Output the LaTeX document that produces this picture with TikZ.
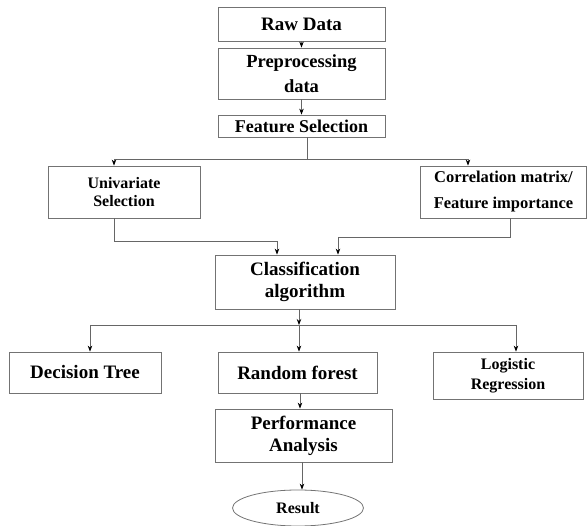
\documentclass[tikz,border=0pt]{standalone}
\usepackage{fontspec}
\setmainfont{Liberation Serif}
\usetikzlibrary{arrows.meta,shapes.geometric}
\tikzset{
  block/.style={draw=black!55, line width=0.8pt, align=center, inner sep=1pt},
  big/.style={font=\bfseries\fontsize{19}{22}\selectfont},
  small/.style={font=\bfseries\fontsize{16}{18}\selectfont},
  link/.style={draw=black!60, line width=0.8pt},
  arrow/.style={link, -{Stealth[length=6pt,width=4.5pt,black]}}
}

\begin{document}
\begin{tikzpicture}[x=1pt,y=-1pt]
  \useasboundingbox (0,0) rectangle (587,526);
  % boxes
  \node[block,big,minimum width=167pt,minimum height=34pt] (raw) at (301.5,24) {Raw Data};
  \node[block,big,minimum width=167pt,minimum height=51pt,font=\bfseries\fontsize{18.5}{25}\selectfont] (prep) at (301.5,73.5) {Preprocessing\\data};
  \node[block,minimum width=167pt,minimum height=22pt,font=\bfseries\fontsize{18}{20}\selectfont] (feat) at (301.5,126) {Feature Selection};
  \node[block,small,minimum width=152pt,minimum height=52pt] (uni) at (124,192) {Univariate\\Selection};
  \node[block,minimum width=166pt,minimum height=52pt,font=\bfseries\fontsize{16.5}{26}\selectfont] (corr) at (503.5,192) {Correlation matrix/\\Feature importance};
  \node[block,big,minimum width=180pt,minimum height=54pt] (clas) at (305,282) {Classification\\algorithm};
  \node[block,big,minimum width=152pt,minimum height=41pt] (dt) at (85,372.5) {Decision Tree};
  \node[block,big,minimum width=159pt,minimum height=41pt] (rf) at (297.5,372.5) {Random forest};
  \node[block,minimum width=150pt,minimum height=47pt,font=\bfseries\fontsize{16}{20}\selectfont] (lr) at (508,375.5) {Logistic\\Regression};
  \node[block,big,minimum width=177pt,minimum height=53pt] (perf) at (303.5,435.5) {Performance\\Analysis};
  \node[block,small,ellipse,minimum width=131pt,minimum height=36pt] (res) at (298,508) {Result};

  % branch points
  \coordinate (fsL) at (114,159);
  \coordinate (fsR) at (468,159);
  \coordinate (mL) at (114,241);
  \coordinate (mR) at (510,237);
  \coordinate (caL) at (90,325);
  \coordinate (caM) at (299,325);
  \coordinate (caR) at (516,325);

  % connectors
  \draw[arrow] (raw) -- (prep);
  \draw[arrow] (prep) -- (feat);
  \draw[link] (feat.south -| 307,0) -- (307,159);
  \draw[link] (fsL) -- (fsR);
  \draw[arrow] (fsL) -- (fsL |- uni.north);
  \draw[arrow] (fsR) -- (fsR |- corr.north);
  \draw[arrow] (uni.south -| mL) -- (mL) -| (clas.north -| 277,0);
  \draw[arrow] (corr.south -| mR) -- (mR) -| (clas.north -| 338,0);
  \draw[arrow] (clas.south -| caM) -- (caM);
  \draw[link] (caL) -- (caR);
  \draw[arrow] (caL) -- (caL |- dt.north);
  \draw[arrow] (caM) -- (caM |- rf.north);
  \draw[arrow] (caR) -- (caR |- lr.north);
  \draw[arrow] (rf.south -| 300,0) -- (perf.north -| 300,0);
  \draw[arrow] (perf.south -| 302,0) -- (res.north -| 302,0);
\end{tikzpicture}
\end{document}
